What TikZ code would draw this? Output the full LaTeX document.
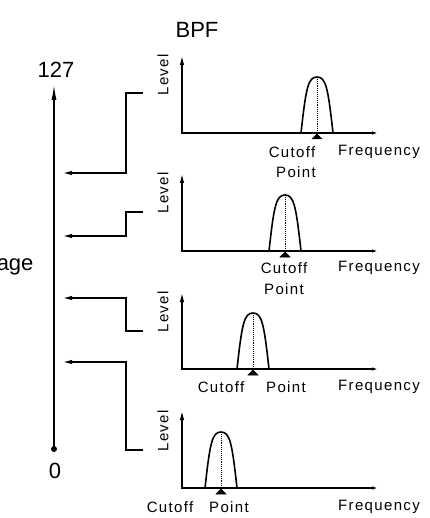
\documentclass[tikz,border=0pt]{standalone}
\usepackage{fontspec}
\setmainfont{Liberation Sans}
\newfontfamily\smallfont[LetterSpace=9]{Liberation Sans}
\usetikzlibrary{arrows.meta}
\tikzset{
  thick line/.style={line width=1.6pt},
  tip/.style={-{Latex[length=10pt,width=4.5pt]}},
  axis tips/.style={{Latex[length=10pt,width=4.5pt]}-{Latex[length=6pt,width=3.5pt]}},
  peak line/.style={line width=1.6pt, line join=round},
  center line/.style={line width=0.9pt, densely dotted},
  marker/.style={fill=black, draw=black, line width=0.5pt},
}
\begin{document}
\begin{tikzpicture}[x=1pt,y=-1pt]
\useasboundingbox (0,0) rectangle (429,518);
\clip (0,0) rectangle (429,518);
{\fontsize{22}{24}\selectfont
% Drawing title and voltage labels
\draw (197,30) node (title) {BPF};%
\draw (56,70) node (top) {127};%
\draw (55,471) node (bottom) {0};%
\draw (41,265) node [anchor=east] (voltage) {Voltage};%
}
% Drawing voltage axis
\coordinate (v0) at (54,449);
\coordinate (v127) at (54,84);
\draw [thick line, -{Latex[length=16pt,width=5pt]}] (v0) -- (v127);%
\fill (v0) circle (3);%

% Drawing steps
\coordinate (s1) at (143,93);  \coordinate (a1) at (62,173);
\coordinate (s2) at (143,212); \coordinate (a2) at (62,236);
\coordinate (s3) at (143,331); \coordinate (a3) at (62,298);
\coordinate (s4) at (143,450); \coordinate (a4) at (62,362);
\draw [thick line, tip] (s1) -- (126,93) -- (126,173) -- (a1);%
\draw [thick line, tip] (s2) -- (126,212) -- (126,236) -- (a2);%
\draw [thick line, tip] (s3) -- (126,331) -- (126,298) -- (a3);%
\draw [thick line, tip] (s4) -- (126,450) -- (126,362) -- (a4);%

{\fontsize{15}{17}\smallfont
% Drawing graph 1
\coordinate (o1) at (182,133);
\draw [thick line, axis tips] (182,55) -- (o1) -- (378,133);%
\draw [peak line] (301,133) .. controls (306,88) and (308,77) .. (317,77) .. controls (326,77) and (328,88) .. (333,133);%
\draw [center line] (317,77) -- (317,133);%
\draw [marker] (312,139) -- (317,134) -- (322,139) -- cycle;%
\draw (163,75) node [rotate=90] (level1) {Level};%
\draw (292,152) node (cutoff1) {Cutoff};%
\draw (296,172) node (point1) {Point};%
\draw (379,152) node (freq1) {Frequency};%

% Drawing graph 2
\coordinate (o2) at (182,251);
\draw [thick line, axis tips] (182,173) -- (o2) -- (378,251);%
\draw [peak line] (269,251) .. controls (274,206) and (276,195) .. (285,195) .. controls (294,195) and (296,206) .. (301,251);%
\draw [center line] (285,195) -- (285,251);%
\draw [marker] (280,257) -- (285,252) -- (290,257) -- cycle;%
\draw (163,193) node [rotate=90] (level2) {Level};%
\draw (284,268) node (cutoff2) {Cutoff};%
\draw (284,289) node (point2) {Point};%
\draw (379,268) node (freq2) {Frequency};%

% Drawing graph 3
\coordinate (o3) at (182,369);
\draw [thick line, axis tips] (182,292) -- (o3) -- (378,369);%
\draw [peak line] (237,369) .. controls (242,324) and (244,313) .. (253,313) .. controls (262,313) and (264,324) .. (269,369);%
\draw [center line] (253,313) -- (253,369);%
\draw [marker] (248,375) -- (253,370) -- (258,375) -- cycle;%
\draw (163,312) node [rotate=90] (level3) {Level};%
\draw (221,387) node (cutoff3) {Cutoff};%
\draw (286,387) node (point3) {Point};%
\draw (379,387) node (freq3) {Frequency};%

% Drawing graph 4
\coordinate (o4) at (182,488);
\draw [thick line, axis tips] (182,410) -- (o4) -- (378,488);%
\draw [peak line] (205,488) .. controls (210,443) and (212,432) .. (221,432) .. controls (230,432) and (232,443) .. (237,488);%
\draw [center line] (221,432) -- (221,488);%
\draw [marker] (216,494) -- (221,489) -- (226,494) -- cycle;%
\draw (163,431) node [rotate=90] (level4) {Level};%
\draw (170,507) node (cutoff4) {Cutoff};%
\draw (229,507) node (point4) {Point};%
\draw (379,507) node (freq4) {Frequency};%
}
\end{tikzpicture}
\end{document}
